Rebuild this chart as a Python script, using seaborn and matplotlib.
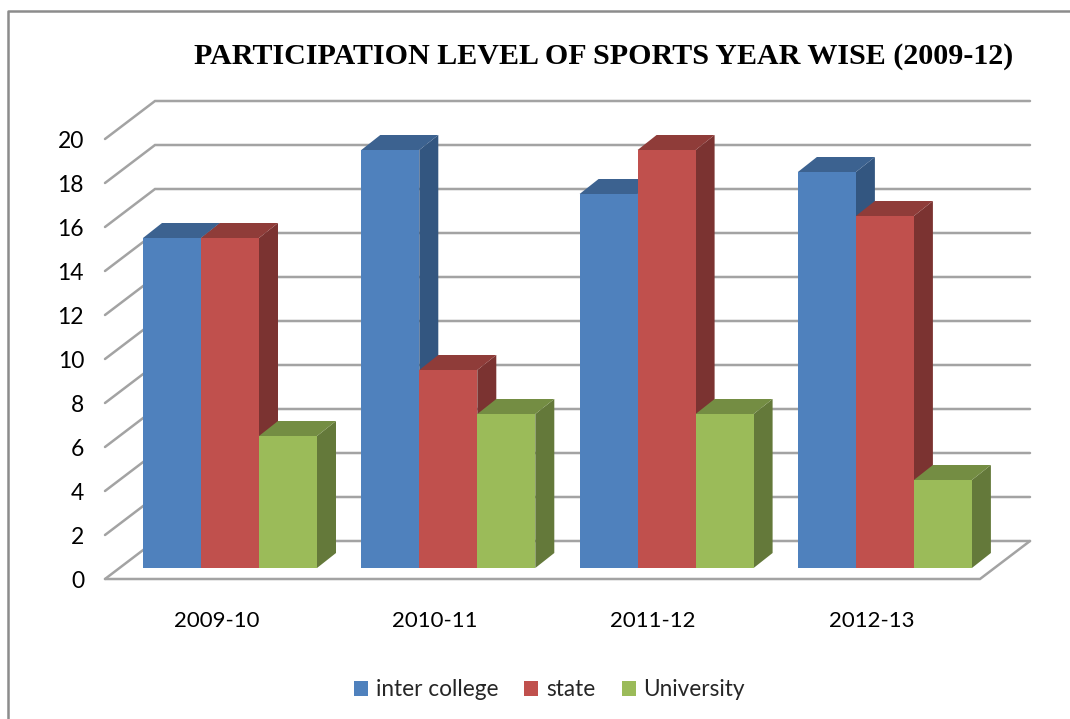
import matplotlib
matplotlib.use("Agg")
import matplotlib.pyplot as plt
from matplotlib.patches import Polygon, Patch
import pandas as pd
import seaborn as sns

years = ["2009-10", "2010-11", "2011-12", "2012-13"]
inter_college = [15, 19, 17, 18]
state = [15, 9, 19, 16]
university = [6, 7, 7, 4]
y_ticks = list(range(0, 21, 2))
levels = ["inter college", "state", "University"]

front_colors = ["#4f81bd", "#c0504d", "#9bbb59"]
side_colors = ["#335680", "#7b3331", "#64793a"]
top_colors = ["#3c6290", "#8f3c39", "#748d43"]
GRID = "#a3a3a3"

W, H = 1070, 719
PX_X, PX_Y = 218.3, 22.0   # pixels per category / per unit


def data_x(px):
    return (px - 230) / PX_X


def data_y(py):
    return (568 - py) / PX_Y


df = pd.DataFrame({
    "year": years * 3,
    "count": inter_college + state + university,
    "level": [levels[0]] * 4 + [levels[1]] * 4 + [levels[2]] * 4,
})

sns.set_theme(style="white")
plt.rcParams["font.family"] = ["Lato", "DejaVu Sans"]

fig = plt.figure(figsize=(W / 100, H / 100), dpi=100, facecolor="white")
ax = fig.add_axes([0, 0, 1, 1])

sns.barplot(data=df, x="year", y="count", hue="level", hue_order=levels,
            palette=front_colors, saturation=1, width=174 / PX_X, gap=0,
            linewidth=0, legend=False, ax=ax, zorder=5)

ax.set_xlim(data_x(0), data_x(W))
ax.set_ylim(data_y(H), data_y(0))
ax.axis("off")

# depth of the fake 3d box, in data units
bar_dx, bar_dy = 19 / PX_X, 15 / PX_Y
wall_dx, wall_dy = 50 / PX_X, 38 / PX_Y
base = 0  # bars stand on y=0
front_y0 = data_y(579)
left = data_x(105)
right = data_x(980)

# gridlines on the side wall and back wall
for v in y_ticks:
    fy = front_y0 + v
    ax.plot([left, left + wall_dx, right + wall_dx], [fy, fy + wall_dy, fy + wall_dy],
            color=GRID, lw=1.8, solid_joinstyle="miter", zorder=1)
    ax.text(data_x(84), fy - 2 / PX_Y, str(v), ha="right", va="center", fontsize=16.5, color="black")

# floor front edge
ax.plot([left, right, right + wall_dx], [front_y0, front_y0, front_y0 + wall_dy],
        color=GRID, lw=1.8, solid_joinstyle="miter", zorder=1)

# side and top faces, built from the bars seaborn drew
for i, container in enumerate(ax.containers):
    for bar in container:
        x0, x1 = bar.get_x(), bar.get_x() + bar.get_width()
        h = bar.get_height()
        z = 3 + i * 0.1
        side = [(x1, base), (x1 + bar_dx, base + bar_dy), (x1 + bar_dx, h + bar_dy), (x1, h)]
        top = [(x0, h), (x0 + bar_dx, h + bar_dy), (x1 + bar_dx, h + bar_dy), (x1, h)]
        ax.add_patch(Polygon(side, closed=True, fc=side_colors[i], ec="none", zorder=z))
        ax.add_patch(Polygon(top, closed=True, fc=top_colors[i], ec="none", zorder=z))

for i, year in enumerate(years):
    ax.text(i - 13.5 / PX_X, data_y(621), year, ha="center", va="center", fontsize=16, color="black")

ax.text(data_x(603.5), data_y(56), "PARTICIPATION LEVEL OF SPORTS YEAR WISE (2009-12)",
        ha="center", va="center", fontsize=21.65, fontweight="bold",
        family="Liberation Serif", color="black")

handles = [Patch(fc=c, ec="none") for c in front_colors]
ax.legend(handles, levels, ncol=3, frameon=False, fontsize=16.3,
          loc="center", bbox_to_anchor=(549.5 / W, 1 - 690 / H),
          handlelength=0.62, handleheight=0.62, handletextpad=0.35, columnspacing=1.15)

# page frame
ax.plot([data_x(8), data_x(8), data_x(W)], [data_y(H), data_y(11), data_y(11)],
        color="#8c8c8c", lw=1.8, zorder=1)

fig.savefig("out.png", dpi=100)
